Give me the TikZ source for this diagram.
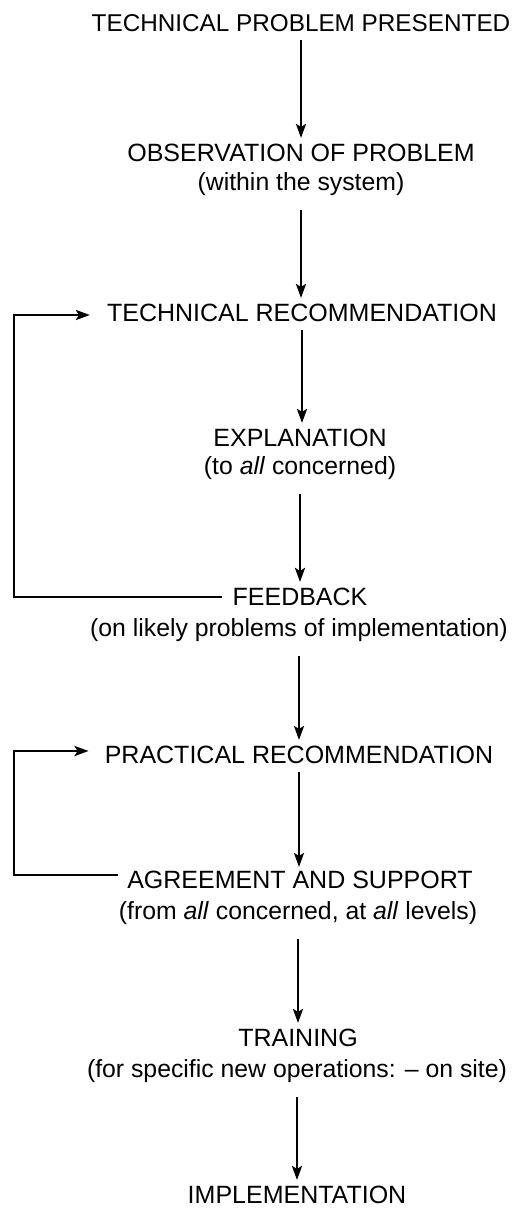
\documentclass[tikz,border=0pt]{standalone}
\usepackage{fontspec}
\setmainfont{Liberation Sans}
\usetikzlibrary{arrows.meta}
\tikzset{
  stage/.style={font=\fontsize{25}{29}\selectfont,inner sep=2pt},
  remark/.style={font=\fontsize{24.8}{29}\selectfont,inner sep=2pt},
  flow/.style={line width=2.6pt,-{Stealth[length=14pt,width=10pt,inset=3pt]}},
  loopline/.style={line width=2.6pt,line cap=rect,-{Stealth[length=14pt,width=10pt,inset=3pt]}}
}
\begin{document}
\begin{tikzpicture}[x=1pt,y=-1pt]
        \useasboundingbox (0,0) rectangle (515,1209);
        %% Stages
        \node[stage,font=\fontsize{24.3}{29}\selectfont] (problem) at (301,23) {TECHNICAL PROBLEM PRESENTED};
        \node[stage] (observe) at (301,153) {OBSERVATION OF PROBLEM};
        \node[remark] (observesub) at (301,184) {(within the system)};
        \node[stage] (techrec) at (302,313) {TECHNICAL RECOMMENDATION};
        \node[stage] (explain) at (300,438) {EXPLANATION};
        \node[remark] (explainsub) at (300,468) {(to \textit{all} concerned)};
        \node[stage] (feedback) at (300,597) {FEEDBACK};
        \node[remark] (feedbacksub) at (299,630) {(on likely problems of implementation)};
        \node[stage] (pracrec) at (299,755) {PRACTICAL RECOMMENDATION};
        \node[stage] (agree) at (300,880) {AGREEMENT AND SUPPORT};
        \node[remark] (agreesub) at (298,913) {(from \textit{all} concerned, at \textit{all} levels)};
        \node[stage] (training) at (298,1038) {TRAINING};
        \node[remark] (trainingsub) at (297,1071) {(for specific new operations: \textendash\ on site)};
        \node[stage] (implement) at (297,1195) {IMPLEMENTATION};
        %% Downward arrows
        \draw[flow,shorten <=6pt,shorten >=4pt] (problem.south) -- (problem.south |- observe.north);
        \draw[flow,shorten <=12pt,shorten >=4pt] (observesub.south) -- (observesub.south |- techrec.north);
        \draw[flow,shorten <=6pt,shorten >=4pt] (techrec.south) -- (techrec.south |- explain.north);
        \draw[flow,shorten <=12pt,shorten >=4pt] (explainsub.south) -- (explainsub.south |- feedback.north);
        \draw[flow,shorten <=12pt,shorten >=4pt] (feedbacksub.south) -- (feedbacksub.south |- pracrec.north);
        \draw[flow,shorten <=6pt,shorten >=2pt] (pracrec.south) -- (pracrec.south |- agree.north);
        \draw[flow,shorten <=12pt,shorten >=4pt] (agreesub.south) -- (agreesub.south |- training.north);
        \draw[flow,shorten <=12pt,shorten >=4pt] (trainingsub.south) -- (trainingsub.south |- implement.north);
        %% Feedback loops
        \coordinate (loopa) at (14,315);
        \coordinate (loopb) at (14,751);
        \draw[loopline,shorten >=15pt] ([xshift=-10pt]feedback.west) -| (loopa) -- (techrec.west |- loopa);
        \draw[loopline,shorten >=14pt] ([xshift=-8pt,yshift=5pt]agree.west) -| (loopb) -- (pracrec.west |- loopb);
    \end{tikzpicture}
\end{document}
